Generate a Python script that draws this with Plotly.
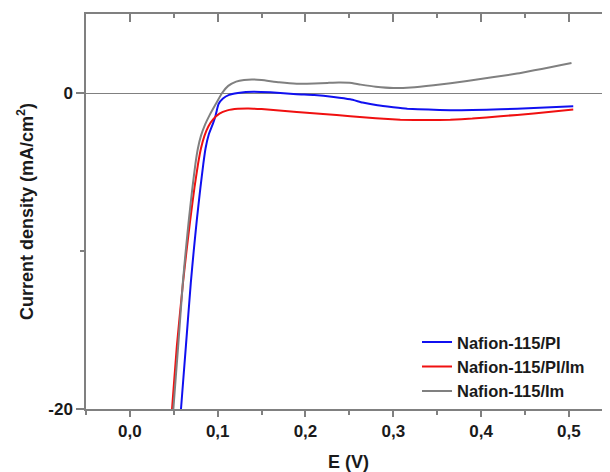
import plotly.graph_objects as go

# Nafion-115/PI (blue)
e_pi = [0.0576, 0.0582, 0.0638, 0.0694, 0.0727, 0.0763, 0.0803, 0.0836, 0.0862, 0.0900, 0.0945,
        0.0975, 0.0990, 0.1010, 0.1060, 0.1130, 0.1230, 0.1320, 0.1410, 0.1600, 0.1900, 0.2100,
        0.2320, 0.2510, 0.2650, 0.2820, 0.3000, 0.3160, 0.3400, 0.3650, 0.3900, 0.4220, 0.4600, 0.5050]
j_pi = [-20.5, -20.0, -16.0, -12.0, -10.0, -8.0, -6.0, -4.5, -3.5, -2.6, -1.95,
        -1.45, -1.1, -0.7, -0.35, -0.12, 0.0, 0.06, 0.08, 0.04, -0.08, -0.13,
        -0.25, -0.40, -0.60, -0.78, -0.90, -0.99, -1.05, -1.09, -1.08, -1.03, -0.95, -0.84]

# Nafion-115/PI/Im (red)
e_piim = [0.0474, 0.0480, 0.0535, 0.0605, 0.0645, 0.0688, 0.0735, 0.0776, 0.0810, 0.0850, 0.0895,
          0.0950, 0.1020, 0.1110, 0.1230, 0.1350, 0.1500, 0.1700, 0.1900, 0.2200, 0.2510, 0.2800,
          0.3080, 0.3400, 0.3650, 0.3900, 0.4220, 0.4600, 0.5050]
j_piim = [-20.5, -20.0, -16.0, -12.0, -10.0, -8.0, -6.0, -4.5, -3.5, -2.7, -2.1,
          -1.65, -1.3, -1.1, -1.0, -0.98, -1.02, -1.1, -1.2, -1.33, -1.47, -1.60,
          -1.69, -1.71, -1.69, -1.62, -1.47, -1.30, -1.05]

# Nafion-115/Im (gray)
e_im = [0.0489, 0.0495, 0.0550, 0.0603, 0.0636, 0.0672, 0.0712, 0.0746, 0.0775, 0.0810, 0.0856,
        0.0908, 0.0978, 0.1050, 0.1120, 0.1210, 0.1300, 0.1390, 0.1500, 0.1700, 0.1900, 0.2100,
        0.2250, 0.2380, 0.2500, 0.2630, 0.2800, 0.3000, 0.3200, 0.3460, 0.3840, 0.4410, 0.5030]
j_im = [-20.5, -20.0, -16.0, -12.0, -10.0, -8.0, -6.0, -4.5, -3.5, -2.7, -2.0,
        -1.4, -0.7, 0.0, 0.45, 0.72, 0.83, 0.86, 0.82, 0.68, 0.59, 0.60,
        0.64, 0.67, 0.65, 0.53, 0.40, 0.32, 0.35, 0.49, 0.76, 1.23, 1.90]

series_names = ["Nafion-115/PI", "Nafion-115/PI/Im", "Nafion-115/Im"]
x_ticks = [0.0, 0.1, 0.2, 0.3, 0.4, 0.5]
y_ticks = [0, -20]
y_ticktext = ["0", "-20"]

FONT = "Liberation Sans, Arial, sans-serif"
AX = "#808080"

fig = go.Figure()
for xs, ys, name, col in [(e_pi, j_pi, series_names[0], "#1010f0"),
                          (e_piim, j_piim, series_names[1], "#f01010"),
                          (e_im, j_im, series_names[2], "#808080")]:
    fig.add_trace(go.Scatter(x=xs, y=ys, name=name, mode="lines",
                             line=dict(color=col, width=2, shape="spline", smoothing=0.4)))

# invisible trace so the top mirror axis is drawn
fig.add_trace(go.Scatter(x=[0], y=[0], xaxis="x2", showlegend=False, hoverinfo="skip",
                         mode="markers", marker=dict(opacity=0)))

fig.update_layout(
    width=610, height=472,
    margin=dict(l=78, r=7, t=6, b=71),
    plot_bgcolor="white", paper_bgcolor="white",
    separators=",.",
    font=dict(family=FONT, size=17, color="#1a1a1a", weight="bold"),
    showlegend=True,
    legend=dict(x=0.6305, y=0.213, xanchor="left", yanchor="top",
                bgcolor="rgba(0,0,0,0)", font=dict(size=16.5, weight="bold"),
                tracegroupgap=0),
    xaxis=dict(range=[-0.05, 0.548], tickvals=x_ticks, tickformat=".1f", automargin=False,
               ticks="outside", ticklen=6, tickwidth=1.5, tickcolor=AX,
               showline=True, linecolor=AX, linewidth=1.5, showgrid=False, zeroline=False,
               minor=dict(dtick=0.05, tick0=0, ticks="outside", ticklen=4, tickwidth=1.5, tickcolor=AX),
               title=dict(text="E (V)", font=dict(size=18, weight="bold"), standoff=15),
               tickfont=dict(size=17, weight="bold")),
    xaxis2=dict(overlaying="x", side="top", matches="x", range=[-0.05, 0.548], automargin=False,
                tickvals=x_ticks, showticklabels=False,
                ticks="inside", ticklen=8, tickwidth=1.5, tickcolor=AX,
                showline=True, linecolor=AX, linewidth=1.5, showgrid=False, zeroline=False,
                minor=dict(dtick=0.05, tick0=0, ticks="inside", ticklen=4, tickwidth=1.5, tickcolor=AX)),
    yaxis=dict(range=[-20, 5], tickvals=y_ticks, ticktext=y_ticktext, automargin=False,
               ticks="outside", ticklen=8, tickwidth=1.5, tickcolor=AX,
               showline=True, linecolor=AX, linewidth=1.5, showgrid=False,
               zeroline=True, zerolinecolor=AX, zerolinewidth=1.2,
               minor=dict(tickvals=[-10], ticks="outside", ticklen=4, tickwidth=1.5, tickcolor=AX),
               title=dict(text="Current density (mA/cm<sup>2</sup>)", font=dict(size=18, weight="bold"), standoff=10),
               tickfont=dict(size=17, weight="bold")),
)

fig.write_html("out.html")
